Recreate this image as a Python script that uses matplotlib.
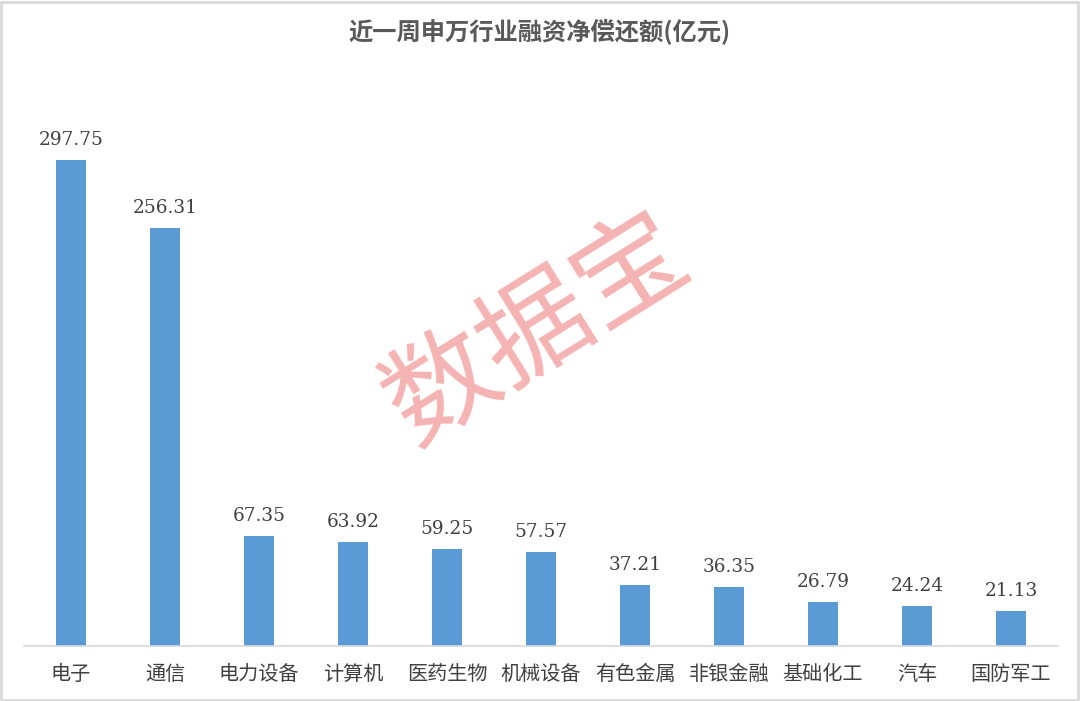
import matplotlib
matplotlib.use('Agg')
import matplotlib.pyplot as plt
from matplotlib.patches import Rectangle

plt.rcParams['font.family'] = ['Noto Sans CJK SC', 'DejaVu Sans']

# data
industries = ['电子', '通信', '电力设备', '计算机', '医药生物', '机械设备',
              '有色金属', '非银金融', '基础化工', '汽车', '国防军工']
amounts = [297.75, 256.31, 67.35, 63.92, 59.25, 57.57,
           37.21, 36.35, 26.79, 24.24, 21.13]

fig = plt.figure(figsize=(10.8, 7.01), dpi=100)
ax = fig.add_axes([0.0222, 0.0785, 0.9574, 0.7785])

x = range(len(industries))
ax.bar(x, amounts, width=0.32, color='#5B9BD5', zorder=2)
for i, v in zip(x, amounts):
    ax.annotate(f'{v:.2f}', (i, v), xytext=(0, 8), textcoords='offset points',
                ha='center', va='bottom', fontsize=13.3,
                family='DejaVu Serif', color='#404040')

ax.set_xlim(-0.5, len(industries) - 0.5)
ax.set_ylim(0, 334.5)
ax.set_xticks(list(x))
ax.set_xticklabels(industries, fontsize=14.5, color='#404040')
ax.tick_params(axis='x', length=0, pad=13)
ax.set_yticks([])
for s in ['top', 'right', 'left']:
    ax.spines[s].set_visible(False)
ax.spines['bottom'].set_color('#d9d9d9')
ax.spines['bottom'].set_linewidth(1.2)

fig.text(0.5, 0.954, '近一周申万行业融资净偿还额(亿元)', ha='center', va='center',
         fontsize=17.5, fontweight='bold', color='#595959')

# watermark
fig.text(0.497, 0.53, '数据宝', ha='center', va='center', fontsize=80,
         color='#F4A6A6', alpha=0.85, rotation=32, zorder=5)

# frame around the figure
fig.patches.append(Rectangle((0.001, 0.002), 0.997, 0.995, transform=fig.transFigure,
                             fill=False, edgecolor='#d9d9d9', linewidth=2))

fig.savefig('out.png', dpi=100)
